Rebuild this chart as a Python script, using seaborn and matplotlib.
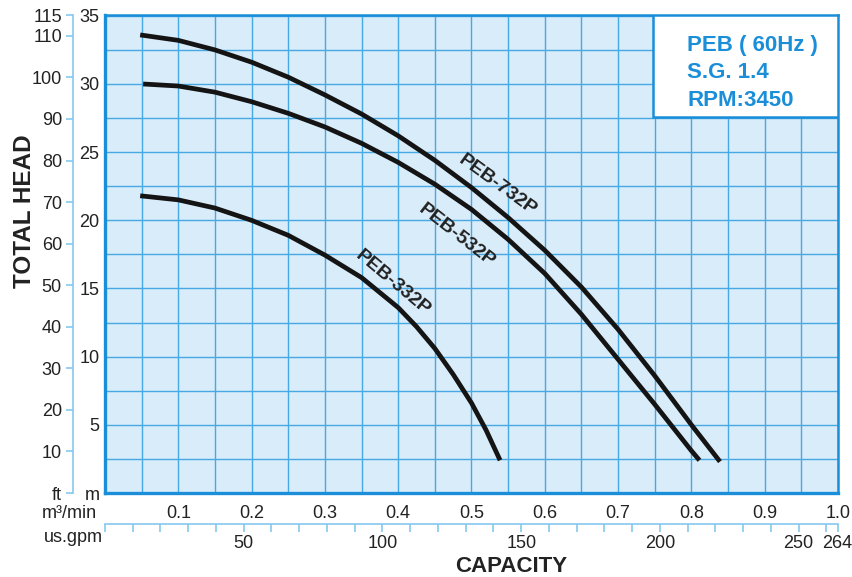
import numpy as np
import pandas as pd
import matplotlib
matplotlib.use("Agg")
import matplotlib.pyplot as plt
from matplotlib.patches import Rectangle
import seaborn as sns

# Curve data (capacity m3/min, head m)
CAP_732 = [0.048, 0.10, 0.15, 0.20, 0.25, 0.30, 0.35, 0.40, 0.45, 0.50,
           0.55, 0.60, 0.65, 0.70, 0.75, 0.80, 0.839]
HEAD_732 = [33.6, 33.2, 32.5, 31.6, 30.5, 29.2, 27.8, 26.2, 24.4, 22.4,
            20.2, 17.8, 15.1, 12.0, 8.6, 5.0, 2.3]
CAP_532 = [0.052, 0.10, 0.15, 0.20, 0.25, 0.30, 0.35, 0.40, 0.45, 0.50,
           0.55, 0.60, 0.65, 0.70, 0.75, 0.80, 0.811]
HEAD_532 = [30.0, 29.85, 29.4, 28.7, 27.85, 26.85, 25.65, 24.25, 22.65, 20.8,
            18.6, 16.1, 13.1, 9.8, 6.5, 3.1, 2.4]
CAP_332 = [0.048, 0.10, 0.15, 0.20, 0.25, 0.30, 0.35, 0.40, 0.425, 0.45,
           0.475, 0.50, 0.52, 0.539]
HEAD_332 = [21.8, 21.5, 20.9, 20.0, 18.9, 17.45, 15.8, 13.6, 12.2, 10.6,
            8.7, 6.6, 4.6, 2.4]
MODELS = ["PEB-732P", "PEB-532P", "PEB-332P"]

M_TICKS = [0, 5, 10, 15, 20, 25, 30, 35]
M_LABELS = ["m", "5", "10", "15", "20", "25", "30", "35"]
FT_TICKS = [0, 10, 20, 30, 40, 50, 60, 70, 80, 90, 100, 110, 115]
FT_LABELS = ["ft", "10", "20", "30", "40", "50", "60", "70", "80", "90", "100", "110", "115"]
CAP_TICKS = [0.1, 0.2, 0.3, 0.4, 0.5, 0.6, 0.7, 0.8, 0.9, 1.0]
GPM_TICKS = list(range(0, 261, 10)) + [264]
GPM_LABELED = [50, 100, 150, 200, 250, 264]

# Colours
BORDER = "#1a8ed8"
GRID = "#47a9e3"
BG = "#d9ecf9"
AXLINE = "#86c8ee"
TEXT = "#222222"

sns.set_theme(style="white")
plt.rcParams["font.family"] = ["Liberation Sans", "DejaVu Sans"]

fig = plt.figure(figsize=(8.53, 5.77), dpi=100)
ax = fig.add_axes([105 / 853, 84 / 577, 733 / 853, 478 / 577])
ax.set_facecolor(BG)

frames = []
for name, cap, head in [(MODELS[0], CAP_732, HEAD_732),
                        (MODELS[1], CAP_532, HEAD_532),
                        (MODELS[2], CAP_332, HEAD_332)]:
    frames.append(pd.DataFrame({"model": name, "capacity": cap, "head": head}))
df = pd.concat(frames, ignore_index=True)

sns.lineplot(data=df, x="capacity", y="head", units="model", estimator=None,
             sort=False, color="#141414", linewidth=3.4, ax=ax, zorder=5,
             solid_capstyle="butt", solid_joinstyle="round")

ax.set_xlim(0, 1.0)
ax.set_ylim(0, 35.06)

# grid
ax.set_xticks(CAP_TICKS)
ax.set_xticklabels([f"{v:.1f}" for v in CAP_TICKS])
ax.set_xticks(np.arange(0.05, 1.0, 0.1), minor=True)
ax.set_yticks(M_TICKS)
ax.set_yticklabels(M_LABELS)
ax.set_yticks(np.arange(2.5, 35, 5), minor=True)
ax.grid(True, which="both", color=GRID, linewidth=1.0)
ax.set_axisbelow(True)
ax.tick_params(axis="both", which="both", length=0, labelsize=13, colors=TEXT)
ax.tick_params(axis="x", pad=9)
ax.tick_params(axis="y", pad=4)
ax.set_xlabel("")
ax.set_ylabel("")
for sp in ax.spines.values():
    sp.set_visible(True)
    sp.set_color(BORDER)
    sp.set_linewidth(1.8)
ax.spines["left"].set_linewidth(2.4)
ax.spines["bottom"].set_linewidth(2.4)

# ft axis
ft = ax.secondary_yaxis(-32 / 733, functions=(lambda m: m * 3.28084, lambda f: f / 3.28084))
ft.set_yticks(FT_TICKS)
ft.set_yticklabels(FT_LABELS)
ft.spines["left"].set_color(AXLINE)
ft.spines["left"].set_linewidth(1.2)
ft.tick_params(axis="y", length=5, width=1.2, color=AXLINE, labelsize=13,
               labelcolor=TEXT, pad=3)

# gpm axis
gpm = ax.secondary_xaxis(-31 / 478, functions=(lambda c: c * 264.17, lambda g: g / 264.17))
gpm.set_xticks(GPM_TICKS)
gpm.set_xticklabels([str(g) if g in GPM_LABELED else "" for g in GPM_TICKS])
gpm.spines["bottom"].set_color(AXLINE)
gpm.spines["bottom"].set_linewidth(1.2)
gpm.tick_params(axis="x", length=6, width=1.2, color=AXLINE, labelsize=13,
                labelcolor=TEXT, pad=2)

# curve labels
ax.text(0.535, 22.6, "PEB-732P", rotation=-36, ha="center", va="center",
        fontsize=14, fontweight="bold", color=TEXT, zorder=6)
ax.text(0.480, 18.9, "PEB-532P", rotation=-38, ha="center", va="center",
        fontsize=14, fontweight="bold", color=TEXT, zorder=6)
ax.text(0.392, 15.4, "PEB-332P", rotation=-40, ha="center", va="center",
        fontsize=14, fontweight="bold", color=TEXT, zorder=6)

# info box
ax.add_patch(Rectangle((0.748, 0.787), 0.252, 0.213, transform=ax.transAxes,
                       facecolor="white", edgecolor=BORDER, linewidth=1.8, zorder=7))
for y, s in [(0.937, "PEB ( 60Hz )"), (0.879, "S.G. 1.4"), (0.822, "RPM:3450")]:
    ax.text(0.794, y, s, transform=ax.transAxes, ha="left", va="center",
            fontsize=16, fontweight="bold", color=BORDER, zorder=8)

# axis titles
fig.text(25 / 853, 1 - 211 / 577, "TOTAL HEAD", rotation=90, ha="center", va="center",
         fontsize=17.5, fontweight="bold", color=TEXT)
fig.text(511 / 853, 1 - 566 / 577, "CAPACITY", ha="center", va="center",
         fontsize=16, fontweight="bold", color=TEXT)
fig.text(97 / 853, 1 - 513 / 577, "m³/min", ha="right", va="center",
         fontsize=13, color=TEXT)
fig.text(103 / 853, 1 - 537 / 577, "us.gpm", ha="right", va="center",
         fontsize=13, color=TEXT)

fig.savefig("out.png", dpi=100, facecolor="white")
